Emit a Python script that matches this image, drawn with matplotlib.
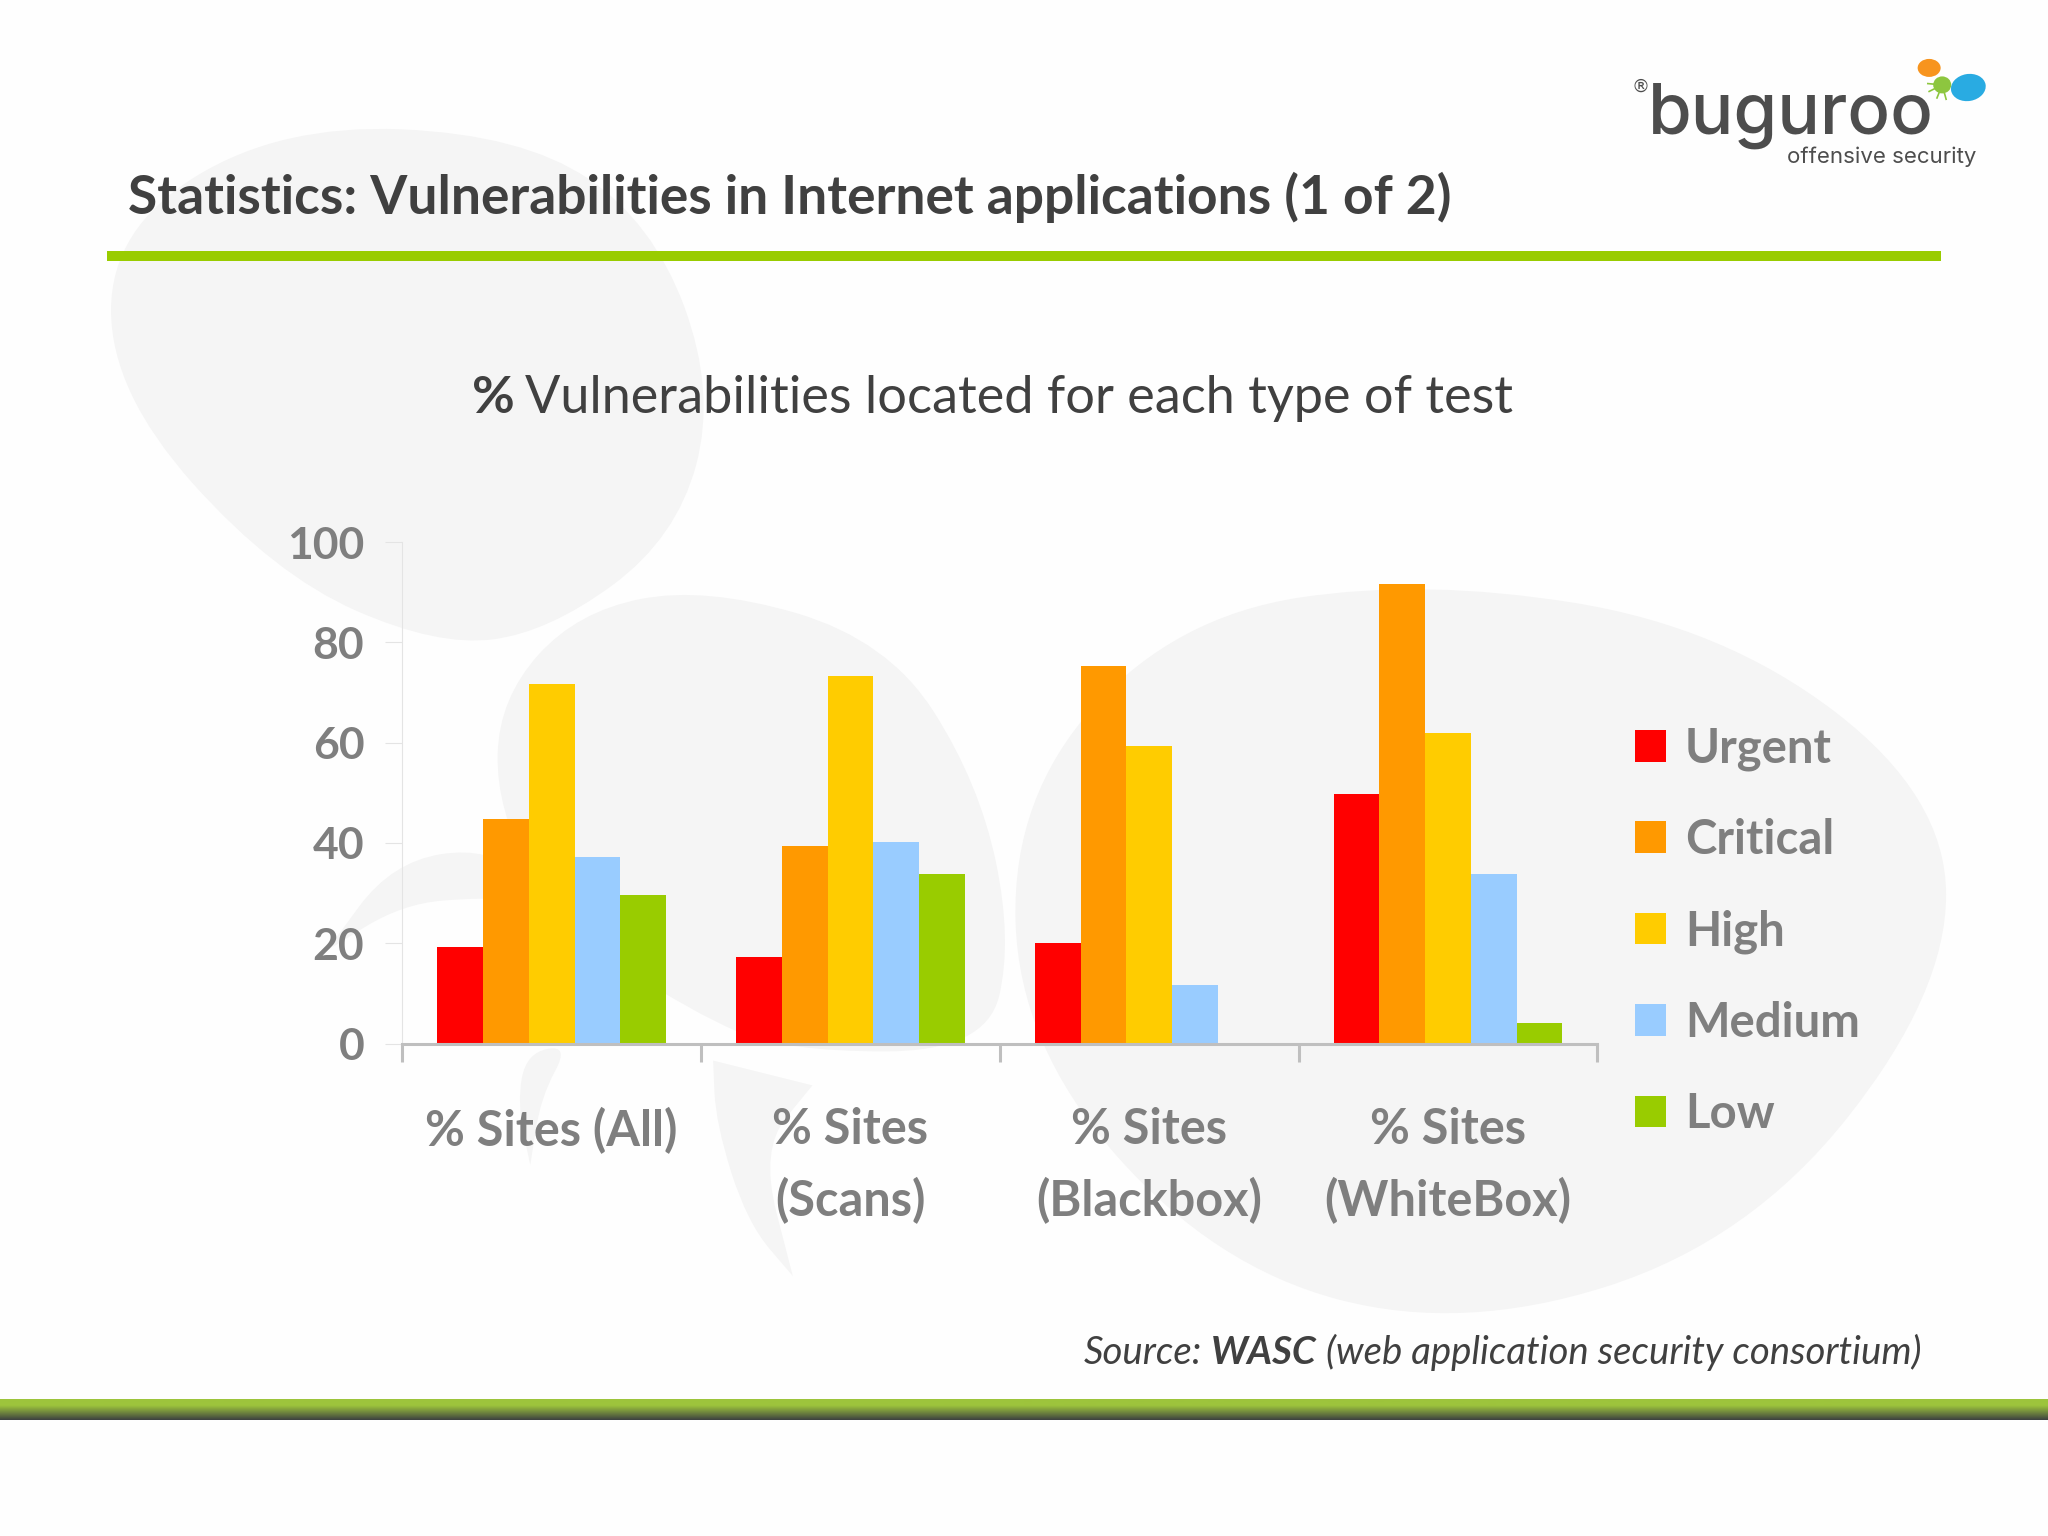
#!/usr/bin/env python3
"""Slide chart: % vulnerabilities located for each type of test."""
import numpy as np
import matplotlib
matplotlib.use("Agg")
import matplotlib.pyplot as plt
from matplotlib.patches import Ellipse, PathPatch, Rectangle
from matplotlib.path import Path

plt.rcParams['font.family'] = ['Lato', 'DejaVu Sans']

# Data
categories = ['% Sites (All)', '% Sites\n(Scans)', '% Sites\n(Blackbox)', '% Sites\n(WhiteBox)']
series_names = ['Urgent', 'Critical', 'High', 'Medium', 'Low']
urgent = [19.3, 17.2, 20.0, 49.7]
critical = [44.8, 39.3, 75.3, 91.7]
high = [71.6, 73.2, 59.4, 62.0]
medium = [37.2, 40.1, 11.7, 33.9]
low = [29.7, 33.9, 0, 4.2]
y_ticks = [0, 20, 40, 60, 80, 100]

colors = ['#FF0000', '#FF9900', '#FFCC00', '#99CCFF', '#99CC00']
BLOB = '#F5F5F5'
GREY = '#7F7F7F'
DARK = '#404040'

W, H = 2048, 1536
S = 2048 / 1568  # picture coords were read at 1568 wide


def blob(ax, pts, color=BLOB):
    """Smooth closed shape through midpoints of the control polygon."""
    pts = np.array(pts, dtype=float) * S
    mids = (pts + np.roll(pts, -1, axis=0)) / 2
    verts = [mids[-1]]
    codes = [Path.MOVETO]
    for p, m in zip(pts, mids):
        verts += [p, m]
        codes += [Path.CURVE3, Path.CURVE3]
    ax.add_patch(PathPatch(Path(verts, codes), fc=color, ec='none'))


def text_after(ax, x, y, s, gap=0, **kw):
    """Draw text on a baseline, return where the next piece should start."""
    t = ax.text(x, y, s, va='baseline', ha='left', **kw)
    return t.get_window_extent(ax.figure.canvas.get_renderer()).x1 + gap


fig = plt.figure(figsize=(20.48, 15.36), dpi=100, facecolor='#FEFEFE')

# background layer in pixel coordinates
bg = fig.add_axes([0, 0, 1, 1], zorder=0)
bg.set_xlim(0, W)
bg.set_ylim(H, 0)
bg.axis('off')

blob(bg, [(85, 175), (215, 95), (400, 103), (500, 170), (548, 300), (518, 412),
          (420, 484), (335, 495), (210, 440), (85, 300)])
blob(bg, [(382, 535), (442, 468), (540, 449), (680, 490), (750, 600), (775, 720),
          (755, 805), (600, 805), (530, 775), (430, 710), (380, 620)])
blob(bg, [(775, 610), (900, 472), (1090, 443), (1320, 480), (1490, 610), (1490, 760),
          (1340, 950), (1120, 1020), (930, 970), (780, 800)])
# swooshes under the chart
blob(bg, [(250, 728), (250, 728), (300, 660), (375, 648), (420, 690), (370, 687), (308, 692)])
blob(bg, [(403, 806), (436, 800), (414, 840), (406, 892), (406, 892), (396, 845)])
blob(bg, [(546, 812), (546, 812), (622, 831), (622, 831), (582, 880), (607, 977), (607, 977),
          (572, 936), (548, 860)])

# top rule
bg.add_patch(Rectangle((82 * S, 192 * S), 1404 * S, 8 * S, fc='#99CC00', ec='none'))

# bottom band, green fading to dark
grad = np.zeros((20, 1, 3))
top_c = np.array([0x9D, 0xC4, 0x3C]) / 255
bot_c = np.array([0x3F, 0x44, 0x40]) / 255
for i in range(20):
    f = max(0, i / 19 - 0.3) / 0.7
    grad[i, 0] = top_c * (1 - f) + bot_c * f
bg.imshow(grad, extent=(0, W, 1087.5 * S, 1072 * S), aspect='auto', zorder=2)
bg.set_xlim(0, W)
bg.set_ylim(H, 0)

# heading texts
bg.text(98 * S, 163.5 * S, 'Statistics: Vulnerabilities in Internet applications (1 of 2)',
        fontsize=38.4, fontweight='bold', color=DARK, va='baseline')
nx = text_after(bg, 361 * S, 316.5 * S, '%', gap=11, fontsize=37.6, fontweight='bold', color=DARK)
text_after(bg, nx, 316.5 * S, 'Vulnerabilities located for each type of test', fontsize=37.6, color=DARK)

# source line
nx = text_after(bg, 830 * S, 1044.5 * S, 'Source:', gap=9, fontsize=27.6, style='italic', color=DARK)
nx = text_after(bg, nx, 1044.5 * S, 'WASC', gap=9, fontsize=27.6, style='italic', fontweight='bold', color=DARK)
text_after(bg, nx, 1044.5 * S, '(web application security consortium)', fontsize=27.6, style='italic', color=DARK)

# logo
logo_font = ['Inter', 'DejaVu Sans']
bg.text(1262 * S, 102 * S, 'buguroo', fontsize=51, color='#4D4D4D', va='baseline',
        family=logo_font, fontweight='medium')
bg.text(1368 * S, 125 * S, 'offensive security', fontsize=16, color='#4D4D4D', va='baseline',
        family=logo_font)
bg.text(1249 * S, 70 * S, '®', fontsize=13, color='#4D4D4D', va='baseline', family=['DejaVu Sans'])
bg.add_patch(Ellipse((1477 * S, 52 * S), 23, 18, fc='#F7941E', ec='none'))
bg.add_patch(Ellipse((1507 * S, 67 * S), 35, 27, angle=-10, fc='#29ABE2', ec='none'))
bg.add_patch(Ellipse((1487 * S, 65 * S), 18, 17, fc='#8DC63F', ec='none'))
for dx, dy in [(-11, -1), (-10, 5), (-4, 10), (3, 11)]:
    bg.plot([1487 * S, 1487 * S + dx * S], [65 * S, 65 * S + dy * S], color='#8DC63F', lw=1.2)
bg.set_xlim(0, W)
bg.set_ylim(H, 0)

# chart
ax = fig.add_axes([308 / 1568, 1 - 799 / 1176, 915 / 1568, 384 / 1176], zorder=1)
ax.patch.set_alpha(0)

bar_w = 0.153
x = np.arange(len(categories))
rows = [urgent, critical, high, medium, low]
for i, (name, vals) in enumerate(zip(series_names, rows)):
    ax.bar(x + 0.5 + (i - 2) * bar_w, vals, bar_w, color=colors[i], label=name)

ax.set_xlim(0, len(categories))
ax.set_ylim(0, 100)
ax.set_yticks(y_ticks)
ax.set_xticks(np.arange(len(categories) + 1))
ax.set_xticklabels([])
ax.set_xticks(x + 0.5, categories, minor=True)
ax.tick_params(axis='x', which='minor', length=0, pad=46, labelsize=35, labelcolor=GREY)
ax.tick_params(axis='x', which='major', length=13, width=2.2, color='#BFBFBF')
ax.tick_params(axis='y', length=12.3, width=0.8, color='#E4E4E4', pad=15, labelsize=32, labelcolor=GREY)
for lab in ax.get_xticklabels(minor=True) + ax.get_yticklabels():
    lab.set_fontweight('bold')
for lab in ax.get_xticklabels(minor=True):
    lab.set_linespacing(1.63)
    lab.set_va('top')
ax.spines['top'].set_visible(False)
ax.spines['right'].set_visible(False)
ax.spines['left'].set_color('#E4E4E4')
ax.spines['left'].set_linewidth(0.8)
ax.spines['bottom'].set_color('#BFBFBF')
ax.spines['bottom'].set_linewidth(2.2)

ax.legend(loc='upper left', bbox_to_anchor=(1252 / 1568, 1 - 556 / 1176),
          bbox_transform=fig.transFigure, frameon=False,
          handlelength=0.66, handleheight=0.66, handletextpad=0.39,
          labelspacing=1.0, borderpad=0, borderaxespad=0, labelcolor=GREY,
          prop={'weight': 'bold', 'size': 34})

fig.savefig('out.png', dpi=100, facecolor=fig.get_facecolor())
